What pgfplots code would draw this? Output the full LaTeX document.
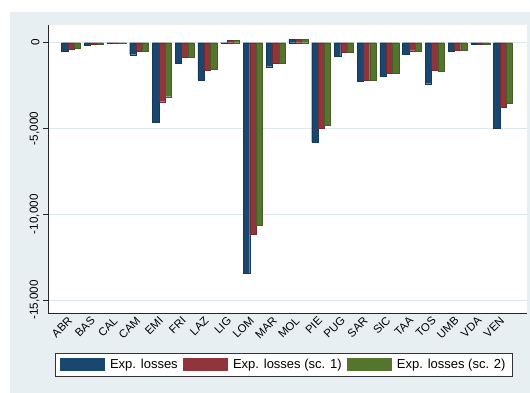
\documentclass[border=0pt]{standalone}
\usepackage{pgfplots}
\pgfplotsset{compat=1.18}
\usepackage{pgfplotstable}
\usepackage{fontspec}
\setmainfont{Liberation Sans}
\definecolor{sblue}{RGB}{26,71,111}
\definecolor{sred}{RGB}{144,53,59}
\definecolor{sgreen}{RGB}{85,117,47}
\definecolor{bgc}{RGB}{232,239,242}
\definecolor{gridc}{RGB}{220,232,236}
\pgfplotstableread{
i reg a b c
0 ABR -520 -360 -330
1 BAS -140 -90 -70
2 CAL -50 -50 -50
3 CAM -700 -490 -490
4 EMI -4660 -3440 -3150
5 FRI -1180 -870 -850
6 LAZ -2170 -1630 -1530
7 LIG -40 120 120
8 LOM -13440 -11150 -10625
9 MAR -1400 -1180 -1180
10 MOL 200 200 200
11 PIE -5780 -4990 -4800
12 PUG -780 -580 -580
13 SAR -2250 -2200 -2200
14 SIC -1960 -1800 -1800
15 TAA -660 -470 -500
16 TOS -2390 -1590 -1670
17 UMB -500 -440 -440
18 VDA -100 -90 -90
19 VEN -4975 -3770 -3520
}\datatab
\begin{document}
\begin{tikzpicture}
\useasboundingbox (0pt,0pt) rectangle (530pt,393pt);
\fill[white] (0pt,0pt) rectangle (530pt,393pt);
\fill[bgc] (10pt,0pt) rectangle (530pt,381pt);
\begin{axis}[
  at={(48pt,80pt)}, anchor=south west,
  scale only axis, width=479pt, height=288pt,
  axis background/.style={fill=white},
  ybar=0pt, bar width=6.3pt,
  xmin=-1.01, xmax=20.055,
  ymin=-15760, ymax=1030,
  axis x line*=bottom, axis y line*=left,
  axis line style={-, black!85},
  xtick=data,
  xticklabels from table={\datatab}{reg},
  xticklabel style={rotate=45, anchor=east, font=\fontsize{11.3}{13}\selectfont, inner sep=1pt},
  x tick style={draw=none},
  ytick={-15000,-10000,-5000,0},
  scaled y ticks=false,
  yticklabel style={rotate=90, anchor=south, font=\fontsize{11.7}{14}\selectfont},
  yticklabel={\pgfmathprintnumber[1000 sep={,}, assume math mode=true]{\tick}},
  y tick style={black!85, line width=0.5pt},
  tick align=outside, major tick length=5pt,
  ymajorgrids, grid style={gridc, line width=0.8pt},
  legend columns=3,
  legend style={at={(0.492,0)}, anchor=north, yshift=-40pt,
    draw=black!80, fill=white, font=\fontsize{13}{15}\selectfont,
    inner xsep=5pt, inner ysep=4pt,
    /tikz/every odd column/.append style={column sep=4pt},
    /tikz/every even column/.append style={column sep=3pt}},
  legend cell align=left,
]
\addplot[fill=sblue, draw=sblue!80!black, line width=0.3pt,
  legend image code/.code={\fill[sblue] (0pt,-5pt) rectangle (44pt,7pt);}]
  table[x=i, y=a] {\datatab};
\addplot[fill=sred, draw=sred!80!black, line width=0.3pt,
  legend image code/.code={\fill[sred] (0pt,-5pt) rectangle (44pt,7pt);}]
  table[x=i, y=b] {\datatab};
\addplot[fill=sgreen, draw=sgreen!80!black, line width=0.3pt,
  legend image code/.code={\fill[sgreen] (0pt,-5pt) rectangle (44pt,7pt);}]
  table[x=i, y=c] {\datatab};
\legend{Exp. losses, Exp. losses (sc. 1), Exp. losses (sc. 2)}
\end{axis}
\end{tikzpicture}
\end{document}
